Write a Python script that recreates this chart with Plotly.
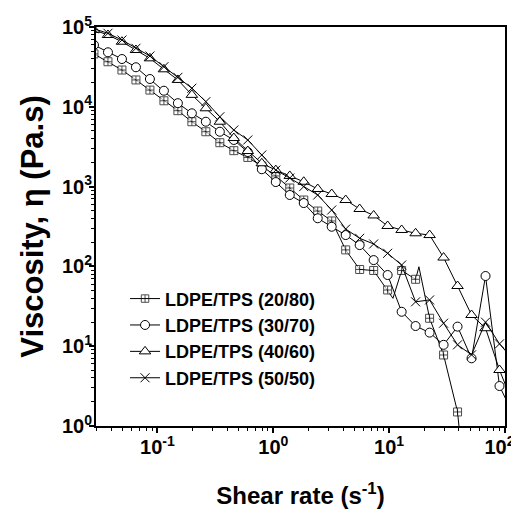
import plotly.graph_objects as go

# Shear rate grid (s^-1), shared by all blends
shear_rate = [0.02835, 0.03743, 0.04943, 0.06527, 0.08618, 0.1138, 0.1502, 0.1983,
              0.2619, 0.3458, 0.4566, 0.6029, 0.7962, 1.051, 1.388, 1.832, 2.419,
              3.194, 4.217, 5.568, 7.352, 9.707, 12.82, 16.92, 22.35, 29.51, 38.95,
              51.44, 67.91, 89.67, 118.4]

# LDPE/TPS (20/80) has two extra unmarked readings (10.79 and 18.07 s^-1)
visc_20_80_x = [0.02835, 0.03743, 0.04943, 0.06527, 0.08618, 0.1138, 0.1502, 0.1983,
                0.2619, 0.3458, 0.4566, 0.6029, 0.7962, 1.051, 1.388, 1.832, 2.419,
                3.194, 4.217, 5.568, 7.352, 9.707, 10.79, 12.82, 16.92, 18.07, 22.35,
                29.51, 38.95, 51.44]
visc_20_80 = [46000, 36700, 28900, 21700, 16200, 11900, 8940, 6500, 4870, 3550, 2820,
              2320, 1810, 1360, 960, 679, 494, 371, 161, 91.5, 88.9, 50.6, 39.8, 88.9,
              68.9, 99, 22.4, 7.76, 1.50, 0.025]
visc_30_70 = [59500, 48200, 39700, 31300, 22300, 15900, 11100, 8290, 6500, 4870, 3840,
              2710, 1650, 1140, 785, 622, 401, 314, 247, 185, 120, 78, 27, 17.9, 14.8,
              10.4, 17.6, 7.05, 75.8, 3.17, 1.37]
visc_40_60 = [92000, 79400, 65400, 51500, 40500, 29500, 21700, 14100, 9580, 6500, 4060,
              2790, 1960, 1610, 1360, 1150, 933, 807, 679, 524, 435, 321, 286, 260, 247,
              129, 56.8, 24.6, 16.8, 5.03, 1.83]
visc_50_50 = [95000, 83400, 68700, 54100, 43300, 31800, 23400, 17100, 11600, 7500, 5120,
              3840, 2490, 1610, 1280, 1000, 785, 509, 294, 225, 191, 146, 104, 36, 38,
              19.4, 10.4, 7.8, 20, 10.7, 6.7]

series_names = ["LDPE/TPS (20/80)", "LDPE/TPS (30/70)", "LDPE/TPS (40/60)", "LDPE/TPS (50/50)"]

y_tickvals = [1, 10, 100, 1000, 10000, 100000]
y_ticktext = ["10<sup>0</sup>", "10<sup>1</sup>", "10<sup>2</sup>", "10<sup>3</sup>",
              "10<sup>4</sup>", "10<sup>5</sup>"]
x_tickvals = [0.1, 1, 10, 100]
x_ticktext = ["10<sup>-1</sup>", "10<sup>0</sup>", "10<sup>1</sup>",
              "10<sup>2</sup>\u00a0\u00a0"]

FONT = "Liberation Sans, Arial, sans-serif"

fig = go.Figure()

grid_set = set(shear_rate)
sq_sizes = [8 if x in grid_set else 0 for x in visc_20_80_x]

fig.add_trace(go.Scatter(
    x=visc_20_80_x, y=visc_20_80, name=series_names[0], mode="lines+markers",
    line=dict(color="black", width=1),
    marker=dict(symbol="square-cross", size=sq_sizes,
                color="white", line=dict(color="black", width=1))))
fig.add_trace(go.Scatter(
    x=shear_rate, y=visc_30_70, name=series_names[1], mode="lines+markers",
    line=dict(color="black", width=1),
    marker=dict(symbol="circle", size=9, color="white", line=dict(color="black", width=1))))
fig.add_trace(go.Scatter(
    x=shear_rate, y=visc_40_60, name=series_names[2], mode="lines+markers",
    line=dict(color="black", width=1),
    marker=dict(symbol="triangle-up", size=10, color="white", line=dict(color="black", width=1))))
fig.add_trace(go.Scatter(
    x=shear_rate, y=visc_50_50, name=series_names[3], mode="lines+markers",
    line=dict(color="black", width=1),
    marker=dict(symbol="x-thin-open", size=9, color="black", line=dict(color="black", width=1))))

x_minor = [m * 10 ** e for e in range(-2, 2) for m in range(2, 10)]
y_minor = [m * 10 ** e for e in range(0, 5) for m in range(2, 10)]

# page body has an 8 px margin, so the figure is sized/offset to land the
# plot frame at the reference's pixel positions
fig.update_layout(
    width=511, height=508,
    margin=dict(l=88, r=14, t=19, b=90, autoexpand=False),
    paper_bgcolor="white", plot_bgcolor="white",
    font=dict(family=FONT, color="black", weight="bold"),
    showlegend=True,
    legend=dict(x=0.071, y=0.365, xanchor="left", yanchor="top",
                bgcolor="rgba(0,0,0,0)", font=dict(size=18, family=FONT, weight="bold"),
                tracegroupgap=0, itemwidth=30),
    xaxis=dict(type="log", range=[-1.530, 2.0], showgrid=False, zeroline=False,
               automargin=False, ticklabeloverflow="allow",
               showline=True, linecolor="black", linewidth=2, mirror=True,
               ticks="outside", ticklen=5, tickwidth=1.5, tickcolor="black",
               tickvals=x_tickvals, ticktext=x_ticktext, ticklabelstandoff=-3,
               tickfont=dict(size=20, family=FONT, weight="bold"),
               minor=dict(tickvals=x_minor, ticks="outside", ticklen=3, tickwidth=1,
                          tickcolor="black", showgrid=False),
               title=dict(text="Shear rate (s<sup>-1</sup>)", standoff=30,
                          font=dict(size=24, family=FONT, weight="bold"))),
    yaxis=dict(type="log", range=[0, 5], showgrid=False, zeroline=False,
               automargin=False, ticklabeloverflow="allow",
               showline=True, linecolor="black", linewidth=2, mirror=True,
               ticks="outside", ticklen=5, tickwidth=1.5, tickcolor="black",
               tickvals=y_tickvals, ticktext=y_ticktext, ticklabelstandoff=-7,
               tickfont=dict(size=20, family=FONT, weight="bold"),
               minor=dict(tickvals=y_minor, ticks="outside", ticklen=3, tickwidth=1,
                          tickcolor="black", showgrid=False),
               title=dict(text="Viscosity, η (Pa.s)", standoff=9,
                          font=dict(size=31, family=FONT, weight="bold"))),
)

fig.write_html("out.html")
